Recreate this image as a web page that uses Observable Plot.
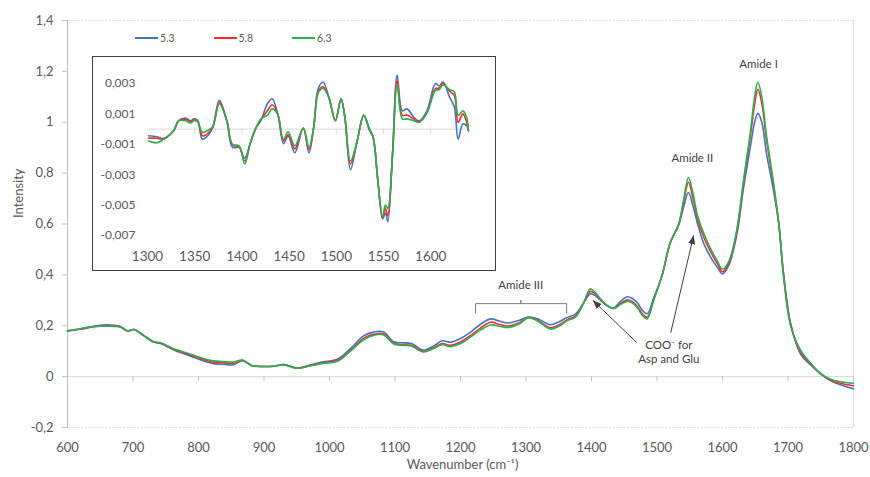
<!DOCTYPE html>
<html>
<head>
<meta charset="utf-8">
<script src="https://cdn.jsdelivr.net/npm/d3@7"></script>
<script src="https://cdn.jsdelivr.net/npm/@observablehq/plot@0.6"></script>
<style>
  body { margin: 0; background: #fff; font-family: Lato, "Open Sans", sans-serif; }
  #wrap { position: relative; width: 870px; height: 477px; overflow: hidden; }
  #wrap > svg { position: absolute; left: 0; top: 0; }
  #inset { position: absolute; left: 92px; top: 56px; width: 404px; height: 215px; box-sizing: border-box; border: 1px solid #404040; background: #fff; }
  #inset svg { display: block; }
  .lg { position: absolute; top: 32px; display: flex; align-items: center; font-size: 10.5px; color: #595959; }
  .lg .sw { display: inline-block; width: 23px; height: 2px; margin-right: 2px; }
</style>
</head>
<body>
<div id="wrap"></div>
<script>
// ---------- data ----------
const seriesNames = ["5.3", "5.8", "6.3"];
const seriesColors = ["#4472C4", "#FF2A2A", "#25B352"];

// main spectrum (wavenumber, cm-1)
const wavenumber = [
  600,620,640,660,680,692,701,715,731,742,
  760,780,803,823,840,853,867,882,900,915,
  930,951,970,990,1012,1032,1052,1067,1082,1098,
  1110,1125,1143,1160,1172,1185,1200,1215,1230,1246,
  1260,1272,1290,1304,1320,1337,1350,1363,1376,1388,
  1398,1406,1414,1424,1434,1445,1455,1462,1470,1478,
  1485,1495,1508,1520,1533,1541,1548,1555,1562,1572,
  1582,1592,1600,1610,1622,1632,1643,1649,1654,1660,
  1667,1678,1686,1693,1704,1719,1739,1750,1765,1780,
  1800];

const intensity53 = [
  0.180,0.188,0.198,0.204,0.198,0.180,0.185,0.163,0.136,0.130,
  0.108,0.088,0.066,0.051,0.048,0.046,0.063,0.043,0.040,0.041,
  0.047,0.034,0.046,0.058,0.068,0.110,0.160,0.175,0.176,0.137,
  0.133,0.130,0.104,0.122,0.141,0.135,0.150,0.174,0.205,0.227,
  0.218,0.211,0.222,0.234,0.225,0.204,0.215,0.233,0.247,0.290,
  0.325,0.318,0.300,0.278,0.270,0.298,0.314,0.308,0.290,0.260,
  0.247,0.310,0.400,0.525,0.595,0.670,0.724,0.670,0.600,0.520,
  0.469,0.430,0.404,0.440,0.560,0.740,0.910,1.000,1.035,1.000,
  0.880,0.730,0.600,0.410,0.210,0.090,0.035,0.010,-0.016,-0.032,
  -0.048];

const intensity58 = [
  0.180,0.186,0.196,0.200,0.196,0.179,0.185,0.164,0.137,0.132,
  0.110,0.092,0.071,0.057,0.054,0.052,0.064,0.043,0.040,0.041,
  0.047,0.033,0.043,0.054,0.063,0.103,0.150,0.166,0.169,0.131,
  0.126,0.123,0.099,0.115,0.130,0.123,0.136,0.161,0.190,0.214,
  0.205,0.199,0.212,0.233,0.218,0.192,0.203,0.224,0.239,0.290,
  0.335,0.325,0.303,0.279,0.268,0.289,0.302,0.296,0.276,0.246,
  0.233,0.303,0.400,0.525,0.598,0.690,0.764,0.700,0.620,0.545,
  0.490,0.445,0.412,0.448,0.572,0.760,0.955,1.070,1.130,1.075,
  0.935,0.750,0.600,0.405,0.205,0.098,0.038,0.011,-0.013,-0.026,
  -0.036];

const intensity63 = [
  0.180,0.188,0.197,0.198,0.195,0.180,0.185,0.165,0.138,0.133,
  0.112,0.095,0.075,0.062,0.059,0.057,0.065,0.043,0.040,0.041,
  0.047,0.033,0.042,0.052,0.060,0.100,0.145,0.162,0.165,0.128,
  0.123,0.120,0.097,0.112,0.125,0.118,0.130,0.155,0.182,0.203,
  0.198,0.193,0.208,0.232,0.215,0.187,0.198,0.220,0.235,0.290,
  0.345,0.330,0.305,0.280,0.268,0.285,0.296,0.290,0.270,0.240,
  0.227,0.300,0.400,0.525,0.600,0.700,0.783,0.720,0.632,0.560,
  0.502,0.455,0.423,0.455,0.580,0.770,0.970,1.100,1.157,1.100,
  0.950,0.760,0.600,0.400,0.200,0.105,0.040,0.012,-0.010,-0.020,
  -0.026];

// inset: second derivative 1300-1640
const insetWavenumber = [
  1301,1310,1317,1328,1333,1340,1346,1349,1353,1358,
  1362,1369,1376,1384,1390,1397,1403,1409,1415,1420,
  1427,1432,1438,1444,1449,1456,1465,1471,1476,1481,
  1486,1492,1499,1505,1509,1515,1522,1529,1535,1539,
  1544,1549,1552,1554.5,1559.5,1564.4,1570,1575,1582,1588,
  1596,1605,1609,1613,1620,1625,1629,1634,1638,1640];

const inset53 = [
  -0.44e-3,-0.50e-3,-0.62e-3,-0.07e-3,0.55e-3,0.72e-3,0.55e-3,0.68e-3,0.58e-3,-0.67e-3,
  -0.55e-3,0.10e-3,1.90e-3,0.55e-3,-1.20e-3,-1.20e-3,-1.90e-3,-0.90e-3,0.10e-3,0.55e-3,
  1.67e-3,2.00e-3,1.00e-3,-0.96e-3,-0.45e-3,-1.56e-3,0.07e-3,-1.56e-3,0.10e-3,2.70e-3,
  3.10e-3,2.10e-3,0.55e-3,2.00e-3,0.80e-3,-2.67e-3,-0.80e-3,0.90e-3,-0.07e-3,-0.55e-3,
  -3.40e-3,-5.90e-3,-5.50e-3,-6.10e-3,-1.70e-3,3.55e-3,1.20e-3,1.33e-3,0.78e-3,0.55e-3,
  1.20e-3,3.00e-3,2.84e-3,3.10e-3,2.10e-3,1.45e-3,-0.67e-3,0.33e-3,0.22e-3,-0.10e-3];

const inset58 = [
  -0.60e-3,-0.60e-3,-0.64e-3,-0.07e-3,0.55e-3,0.65e-3,0.50e-3,0.62e-3,0.55e-3,-0.44e-3,
  -0.38e-3,0.12e-3,1.78e-3,0.55e-3,-1.05e-3,-1.15e-3,-2.10e-3,-0.90e-3,0.10e-3,0.62e-3,
  1.20e-3,1.60e-3,1.00e-3,-0.78e-3,-0.38e-3,-1.30e-3,0.07e-3,-1.35e-3,0.10e-3,2.50e-3,
  2.78e-3,2.10e-3,0.55e-3,2.00e-3,0.80e-3,-2.30e-3,-0.80e-3,0.90e-3,0.00e-3,-0.55e-3,
  -3.40e-3,-5.85e-3,-5.20e-3,-5.70e-3,-1.70e-3,3.20e-3,0.90e-3,0.93e-3,0.66e-3,0.50e-3,
  1.10e-3,2.67e-3,2.70e-3,3.00e-3,2.50e-3,2.20e-3,0.44e-3,1.00e-3,0.45e-3,-0.10e-3];

const inset63 = [
  -0.78e-3,-0.90e-3,-0.67e-3,-0.07e-3,0.55e-3,0.55e-3,0.40e-3,0.55e-3,0.50e-3,-0.22e-3,
  -0.15e-3,0.15e-3,1.67e-3,0.55e-3,-1.00e-3,-1.10e-3,-2.30e-3,-0.90e-3,0.10e-3,0.67e-3,
  0.90e-3,1.33e-3,0.95e-3,-0.67e-3,-0.18e-3,-1.10e-3,0.07e-3,-1.20e-3,0.10e-3,2.40e-3,
  2.67e-3,2.10e-3,0.55e-3,2.00e-3,0.80e-3,-2.10e-3,-0.80e-3,0.90e-3,0.05e-3,-0.55e-3,
  -3.40e-3,-5.75e-3,-5.00e-3,-5.20e-3,-1.70e-3,2.90e-3,0.67e-3,0.67e-3,0.55e-3,0.45e-3,
  1.05e-3,2.55e-3,2.60e-3,2.90e-3,2.60e-3,2.45e-3,0.90e-3,1.20e-3,0.78e-3,-0.10e-3];

// ticks
const mainXTicks = [600,700,800,900,1000,1100,1200,1300,1400,1500,1600,1700,1800];
const mainYTicks = [-0.2,0,0.2,0.4,0.6,0.8,1,1.2,1.4];
const insetXTicks = [1300,1350,1400,1450,1500,1550,1600];
const insetXTickMarks = [1350,1400,1450,1500,1550,1600];
const insetYTicks = [-0.007,-0.005,-0.003,-0.001,0.001,0.003];

// annotations (data coordinates)
const annotationLabels = [
  {w: 1655, v: 1.232, label: "Amide I"},
  {w: 1554, v: 0.862, label: "Amide II"},
  {w: 1292, v: 0.365, label: "Amide III"},
  {w: 1518, v: 0.100, label: "COO\u207B for\nAsp and Glu"}
];
const annotationArrows = [
  {w1: 1469, v1: 0.134, w2: 1402, v2: 0.300},
  {w1: 1521, v1: 0.173, w2: 1556, v2: 0.556}
];
const bracket = [
  {w: 1223, v: 0.251}, {w: 1223, v: 0.287}, {w: 1292, v: 0.287}, {w: 1292, v: 0.300},
  {w: 1292, v: 0.287}, {w: 1362, v: 0.287}, {w: 1362, v: 0.251}
];

// ---------- build tidy tables ----------
const mainSeries = [intensity53, intensity58, intensity63];
const mainData = [];
mainSeries.forEach((vals, s) => vals.forEach((v, i) => mainData.push({series: seriesNames[s], w: wavenumber[i], v})));
const insetSeries = [inset53, inset58, inset63];
const insetData = [];
insetSeries.forEach((vals, s) => vals.forEach((v, i) => insetData.push({series: seriesNames[s], w: insetWavenumber[i], v})));

const fmtMain = d => String(+d.toFixed(1)).replace(".", ",");
const fmtInset = d => d.toFixed(3).replace(".", ",");
const tickColor = "#bfbfbf";
const gridColor = "#d9d9d9";
const labelColor = "#595959";
const font = "Lato, 'Open Sans', sans-serif";

function filledArrow(color, context) {
  const ns = "http://www.w3.org/2000/svg";
  const m = context.document.createElementNS(ns, "marker");
  m.setAttribute("viewBox", "-9 -4 10 8");
  m.setAttribute("markerWidth", "10");
  m.setAttribute("markerHeight", "8");
  m.setAttribute("markerUnits", "userSpaceOnUse");
  m.setAttribute("orient", "auto");
  const p = context.document.createElementNS(ns, "path");
  p.setAttribute("d", "M-9,-3.6L0,0L-9,3.6Z");
  p.setAttribute("fill", color);
  p.setAttribute("stroke", "none");
  m.appendChild(p);
  return m;
}

const main = Plot.plot({
  width: 870, height: 477,
  marginLeft: 67, marginRight: 17, marginTop: 20, marginBottom: 50,
  style: {fontFamily: font, background: "white"},
  x: {domain: [600, 1800], axis: null},
  y: {domain: [-0.2, 1.4], axis: null},
  color: {domain: seriesNames, range: seriesColors},
  marks: [
    Plot.ruleY([1.4, -0.2], {stroke: gridColor, strokeDasharray: "2,1.5"}),
    Plot.ruleX([1800], {stroke: gridColor}),
    Plot.ruleY([0], {stroke: gridColor}),
    Plot.ruleX([600], {stroke: tickColor}),
    Plot.ruleX(mainXTicks, {x: d => d, y1: 0, y2: 0, insetBottom: -5, stroke: tickColor}),
    Plot.ruleY(mainYTicks, {y: d => d, x1: 600, x2: 600, insetLeft: -5, stroke: tickColor}),
    Plot.text(mainYTicks, {x: 600, y: d => d, text: fmtMain, textAnchor: "end", dx: -14, fill: labelColor, fontSize: 13}),
    Plot.text(mainXTicks, {x: d => d, y: -0.2, text: d => String(d), dy: 20, fill: labelColor, fontSize: 13}),
    Plot.text(["Intensity"], {frameAnchor: "left", rotate: -90, dx: -49, dy: -6, fill: labelColor, fontSize: 13}),
    Plot.text(["Wavenumber (cm\u207B\u00B9)"], {frameAnchor: "bottom", dy: 41, dx: 2, fill: labelColor, fontSize: 13}),
    Plot.line(bracket, {x: "w", y: "v", stroke: "#7f7f7f", strokeWidth: 1}),
    Plot.line(mainData, {x: "w", y: "v", z: "series", stroke: "series", curve: "catmull-rom", strokeWidth: 1.6}),
    Plot.link(annotationArrows, {x1: "w1", y1: "v1", x2: "w2", y2: "v2", stroke: "#404040", strokeWidth: 1, markerEnd: filledArrow}),
    Plot.text(annotationLabels, {x: "w", y: "v", text: "label", fill: "#404040", fontSize: 11.5, lineHeight: 1.3})
  ]
});

const inset = Plot.plot({
  width: 402, height: 213,
  marginLeft: 54, marginRight: 27, marginTop: 26, marginBottom: 35,
  style: {fontFamily: font, background: "white"},
  x: {domain: [1300, 1640], axis: null},
  y: {domain: [-0.007, 0.003], axis: null},
  color: {domain: seriesNames, range: seriesColors},
  marks: [
    Plot.ruleY([0], {x1: 1300, x2: 1640, stroke: gridColor}),
    Plot.ruleX(insetXTickMarks, {x: d => d, y1: 0, y2: 0, insetBottom: -5, stroke: gridColor}),
    Plot.text(insetYTicks, {x: 1300, y: d => d, text: fmtInset, textAnchor: "end", dx: -12, fill: labelColor, fontSize: 12}),
    Plot.text(insetXTicks, {x: d => d, y: -0.007, dy: 21, text: d => String(d), fill: labelColor, fontSize: 13.5}),
    Plot.line(insetData, {x: "w", y: "v", z: "series", stroke: "series", curve: "catmull-rom", strokeWidth: 1.6})
  ]
});

const wrap = document.getElementById("wrap");
wrap.appendChild(main);
const insetDiv = document.createElement("div");
insetDiv.id = "inset";
insetDiv.appendChild(inset);
wrap.appendChild(insetDiv);

seriesNames.forEach((name, i) => {
  const item = document.createElement("div");
  item.className = "lg";
  item.style.left = (135 + i * 78.5) + "px";
  const sw = document.createElement("span");
  sw.className = "sw";
  sw.style.background = seriesColors[i];
  const tx = document.createElement("span");
  tx.textContent = name;
  item.appendChild(sw);
  item.appendChild(tx);
  wrap.appendChild(item);
});
</script>
</body>
</html>
